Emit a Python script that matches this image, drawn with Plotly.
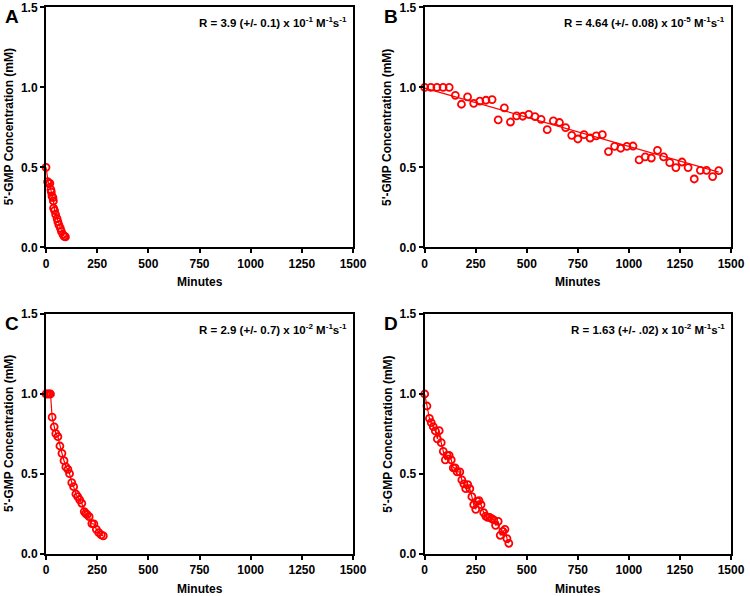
import plotly.graph_objects as go

# ---------------- data ----------------
a_min = [0, 8, 12, 19, 24, 26, 29, 34, 36, 37, 42, 47, 54, 58, 63, 70, 75, 83, 88, 91, 95]
a_conc = [0.50, 0.41, 0.40, 0.40, 0.36, 0.345, 0.32, 0.31, 0.29, 0.245, 0.23, 0.205, 0.18, 0.16, 0.14, 0.12, 0.10, 0.08, 0.07, 0.068, 0.065]

b_min = list(range(0, 1441, 30))
b_conc = [1.0, 1.0, 1.0, 1.0, 1.0, 0.95, 0.894, 0.94, 0.90, 0.913, 0.919, 0.923, 0.796,
          0.871, 0.783, 0.821, 0.819, 0.831, 0.817, 0.80, 0.735, 0.79, 0.78, 0.748,
          0.70, 0.677, 0.704, 0.683, 0.696, 0.704, 0.598, 0.631, 0.619, 0.631, 0.633,
          0.546, 0.565, 0.558, 0.606, 0.565, 0.529, 0.498, 0.533, 0.498, 0.427, 0.481,
          0.481, 0.442, 0.479]
b_fit_min = [0, 1440]
b_fit_conc = [0.995, 0.47]

c_min = [0, 8, 15, 22, 30, 40, 48, 58, 68, 78, 88, 97, 107, 115, 126, 135, 146, 155,
         165, 175, 187, 194, 201, 211, 224, 234, 246, 258, 270, 280]
c_conc = [1.0, 1.0, 1.0, 1.0, 0.855, 0.795, 0.752, 0.733, 0.675, 0.629, 0.583, 0.544,
          0.529, 0.502, 0.446, 0.421, 0.375, 0.358, 0.338, 0.317, 0.265, 0.254, 0.246,
          0.233, 0.19, 0.188, 0.154, 0.133, 0.119, 0.113]

d_min = [0, 11, 23, 32, 42, 52, 62, 71, 81, 91, 101, 110, 120, 130, 140, 149, 159, 172,
         182, 192, 201, 211, 221, 231, 240, 250, 257, 266, 276, 289, 299, 308, 318, 328,
         338, 347, 360, 370, 383, 393, 403, 412]
d_conc = [1.0, 0.925, 0.848, 0.821, 0.796, 0.769, 0.719, 0.771, 0.696, 0.642, 0.588,
          0.617, 0.617, 0.588, 0.538, 0.538, 0.513, 0.513, 0.463, 0.438, 0.408, 0.433,
          0.408, 0.358, 0.308, 0.279, 0.329, 0.333, 0.308, 0.258, 0.237, 0.229, 0.229,
          0.221, 0.213, 0.179, 0.204, 0.117, 0.142, 0.154, 0.096, 0.067]

x_ticks = [0, 250, 500, 750, 1000, 1250, 1500]
y_ticks = [0.0, 0.5, 1.0, 1.5]
panel_letters = ["A", "B", "C", "D"]
rate_texts = [
    "R = 3.9 (+/- 0.1) x 10<sup>-1</sup> M<sup>-1</sup>s<sup>-1</sup>",
    "R = 4.64 (+/- 0.08) x 10<sup>-5</sup> M<sup>-1</sup>s<sup>-1</sup>",
    "R = 2.9 (+/- 0.7) x 10<sup>-2</sup> M<sup>-1</sup>s<sup>-1</sup>",
    "R = 1.63 (+/- .02) x 10<sup>-2</sup> M<sup>-1</sup>s<sup>-1</sup>",
]

# ---------------- layout geometry (pixels) ----------------
W, H = 750, 596
RED = "#ff0000"
FONT = "Arial, Liberation Sans, sans-serif"

def px(x):
    return x / W

def py(y):
    return 1 - y / H

cols = [(46, 353), (424.7, 731)]
rows = [(7.3, 247.3), (314, 554)]

fig = go.Figure()

panels = [
    (0, 0, a_min, a_conc, "lines+markers", None, None),
    (1, 0, b_min, b_conc, "markers", b_fit_min, b_fit_conc),
    (0, 1, c_min, c_conc, "lines+markers", None, None),
    (1, 1, d_min, d_conc, "lines+markers", None, None),
]

annotations = []
for i, (ci, ri, xs, ys, mode, fx, fy) in enumerate(panels):
    n = i + 1
    xa = "x" if n == 1 else f"x{n}"
    ya = "y" if n == 1 else f"y{n}"
    x0, x1 = cols[ci]
    y0, y1 = rows[ri]
    axis_common = dict(
        showline=True, linecolor="black", linewidth=2, mirror=True,
        ticks="outside", ticklen=4, tickwidth=2, tickcolor="black",
        showgrid=False, zeroline=False, automargin=False,
        tickfont=dict(family=FONT, size=12, color="black", weight="bold"),
    )
    fig.layout[f"xaxis{'' if n == 1 else n}"] = dict(
        domain=[px(x0), px(x1)], range=[0, 1500], tickvals=x_ticks,
        anchor=ya, **axis_common)
    fig.layout[f"yaxis{'' if n == 1 else n}"] = dict(
        domain=[py(y1), py(y0)], range=[0, 1.5], tickvals=y_ticks,
        tickformat=".1f", anchor=xa, **axis_common)

    if fx is not None:
        fig.add_trace(go.Scatter(x=fx, y=fy, mode="lines", xaxis=xa, yaxis=ya,
                                 line=dict(color=RED, width=1.2), showlegend=False,
                                 cliponaxis=False))
    fig.add_trace(go.Scatter(
        x=xs, y=ys, mode=mode, xaxis=xa, yaxis=ya, showlegend=False, cliponaxis=False,
        line=dict(color=RED, width=1.2),
        marker=dict(symbol="circle-open", size=7, color=RED, line=dict(width=1.8, color=RED)),
    ))

    # axis titles
    annotations.append(dict(
        text="Minutes", x=px((x0 + x1) / 2), y=py(y1 + 35), xref="paper", yref="paper",
        xanchor="center", yanchor="middle", showarrow=False,
        font=dict(family=FONT, size=12, color="black", weight="bold")))
    annotations.append(dict(
        text="5'-GMP Concentration (mM)", x=px(x0 - 37), y=py((y0 + y1) / 2),
        xref="paper", yref="paper", xanchor="center", yanchor="middle",
        textangle=-90, showarrow=False,
        font=dict(family=FONT, size=12, color="black", weight="bold")))
    # panel letter
    annotations.append(dict(
        text=panel_letters[i], x=px(x0 - 43), y=py(y0 + 9), xref="paper", yref="paper",
        xanchor="left", yanchor="middle", showarrow=False,
        font=dict(family=FONT, size=19, color="black", weight="bold")))
    # rate text
    annotations.append(dict(
        text=rate_texts[i], x=px(x1 - 4), y=py(y0 + 15), xref="paper", yref="paper",
        xanchor="right", yanchor="middle", showarrow=False,
        font=dict(family=FONT, size=11.5, color="black", weight="bold")))

fig.update_layout(
    width=W, height=H, margin=dict(l=0, r=0, t=0, b=0, autoexpand=False),
    paper_bgcolor="white", plot_bgcolor="white",
    annotations=annotations,
)

fig.write_html(
    "out.html",
    config={"displayModeBar": False, "staticPlot": True},
    post_script="document.body.style.margin='0';document.body.style.overflow='hidden';",
)
